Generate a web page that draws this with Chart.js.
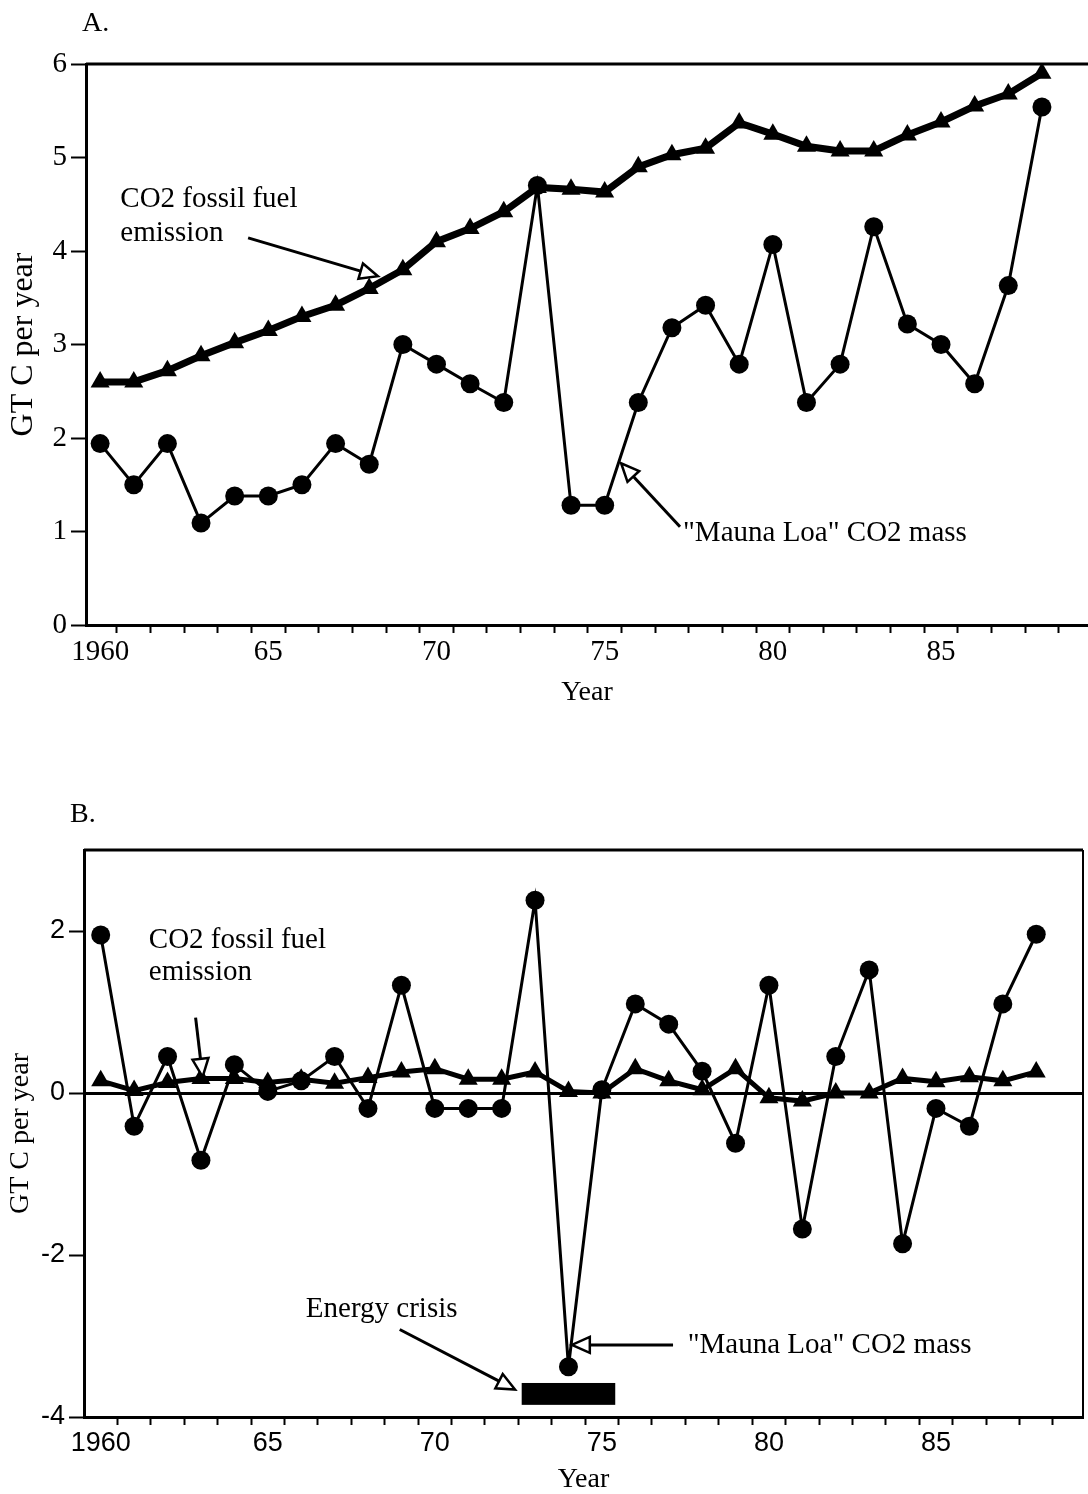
<!DOCTYPE html>
<html>
<head>
<meta charset="utf-8">
<script src="https://cdn.jsdelivr.net/npm/chart.js@4.4.0/dist/chart.umd.min.js"></script>
<style>
  html, body { margin: 0; padding: 0; background: #fff; overflow: hidden; }
  #wrap { position: relative; width: 1088px; height: 1494px; overflow: hidden; }
  canvas { position: absolute; left: 0; }
  #chartA { top: 0; }
  #chartB { top: 780px; }
</style>
</head>
<body>
<div id="wrap">
  <canvas id="chartA" width="1088" height="720"></canvas>
  <canvas id="chartB" width="1088" height="716"></canvas>
</div>
<script>
// years on the x axis
const years = [1960, 1961, 1962, 1963, 1964, 1965, 1966, 1967, 1968, 1969,
  1970, 1971, 1972, 1973, 1974, 1975, 1976, 1977, 1978, 1979,
  1980, 1981, 1982, 1983, 1984, 1985, 1986, 1987, 1988];

// panel A : GT C per year
const fossilA = [2.6, 2.6, 2.72, 2.88, 3.02, 3.15, 3.3, 3.42, 3.6, 3.8,
  4.1, 4.24, 4.42, 4.68, 4.66, 4.63, 4.9, 5.03, 5.1, 5.37,
  5.25, 5.12, 5.07, 5.07, 5.24, 5.38, 5.55, 5.68, 5.9];
const maunaA = [1.94, 1.5, 1.94, 1.09, 1.38, 1.38, 1.5, 1.94, 1.72, 3.0,
  2.79, 2.58, 2.38, 4.7, 1.28, 1.28, 2.38, 3.18, 3.42, 2.79,
  4.07, 2.38, 2.79, 4.26, 3.22, 3.0, 2.58, 3.63, 5.54];

// panel B : year to year change
const fossilB = [0.15, 0.03, 0.13, 0.18, 0.18, 0.13, 0.17, 0.12, 0.19, 0.26,
  0.3, 0.17, 0.17, 0.26, 0.02, 0.0, 0.3, 0.15, 0.04, 0.3,
  -0.06, -0.1, 0.0, 0.0, 0.18, 0.14, 0.2, 0.15, 0.26];
const maunaB = [1.95, -0.41, 0.45, -0.83, 0.35, 0.02, 0.15, 0.45, -0.19, 1.33,
  -0.19, -0.19, -0.19, 2.38, -3.38, 0.04, 1.1, 0.85, 0.27, -0.62,
  1.33, -1.68, 0.45, 1.52, -1.86, -0.19, -0.41, 1.1, 1.96];

// tick labels
const xLabelYears = [1960, 1965, 1970, 1975, 1980, 1985];
const xLabelText = ["1960", "65", "70", "75", "80", "85"];
const yTicksA = [0, 1, 2, 3, 4, 5, 6];
const yTicksB = [-4, -2, 0, 2];

// energy crisis period (years) and its band on the y axis
const crisisYears = [1972.6, 1975.4];
const crisisBand = [-3.58, -3.85];

const serif = '"Liberation Serif", "Times New Roman", serif';
const sans = '"Liberation Sans", Arial, sans-serif';

// small ticks between the labelled years
const minorTicks = [];
for (let y = 1960.5; y < 1989; y += 1) minorTicks.push(y);
const xTicks = minorTicks.concat(xLabelYears).sort((a, b) => a - b);

function pts(vals) {
  return years.map((yr, i) => ({ x: yr, y: vals[i] }));
}

// open arrow head, tip at (x2, y2)
function openArrow(ctx, x1, y1, x2, y2) {
  const ang = Math.atan2(y2 - y1, x2 - x1);
  const len = 18, half = 8;
  const bx = x2 - Math.cos(ang) * len;
  const by = y2 - Math.sin(ang) * len;
  ctx.strokeStyle = "#000";
  ctx.lineWidth = 3;
  ctx.beginPath();
  ctx.moveTo(x1, y1);
  ctx.lineTo(bx, by);
  ctx.stroke();
  ctx.beginPath();
  ctx.moveTo(x2, y2);
  ctx.lineTo(bx + Math.sin(ang) * half, by - Math.cos(ang) * half);
  ctx.lineTo(bx - Math.sin(ang) * half, by + Math.cos(ang) * half);
  ctx.closePath();
  ctx.fillStyle = "#fff";
  ctx.fill();
  ctx.lineWidth = 2.5;
  ctx.stroke();
}

// frame, notes and arrows, all placed through the chart scales
function notesPlugin(notes) {
  return {
    id: "notes",
    afterDatasetsDraw(chart) {
      const ctx = chart.ctx;
      const a = chart.chartArea;
      const xs = chart.scales.x, ys = chart.scales.y;
      const px = (v) => xs.getPixelForValue(v);
      const py = (v) => ys.getPixelForValue(v);
      ctx.save();
      ctx.strokeStyle = "#000";
      ctx.lineWidth = 3;
      ctx.beginPath();
      ctx.moveTo(a.left, a.top);
      ctx.lineTo(a.right, a.top);
      ctx.stroke();
      if (notes.rightBorder) {
        ctx.lineWidth = 2;
        ctx.beginPath();
        ctx.moveTo(a.right, a.top);
        ctx.lineTo(a.right, a.bottom);
        ctx.stroke();
      }
      if (notes.bar) {
        const b = notes.bar;
        ctx.fillStyle = "#000";
        ctx.fillRect(px(b.x[0]), py(b.y[0]), px(b.x[1]) - px(b.x[0]), py(b.y[1]) - py(b.y[0]));
      }
      notes.arrows.forEach((ar) => openArrow(ctx, px(ar[0]), py(ar[1]), px(ar[2]), py(ar[3])));
      ctx.fillStyle = "#000";
      ctx.font = "29px " + serif;
      ctx.textBaseline = "middle";
      notes.texts.forEach((t) => {
        ctx.textAlign = t.align || "left";
        ctx.fillText(t.text, px(t.x), py(t.y));
      });
      // panel letter
      ctx.textAlign = "left";
      ctx.font = "28px " + serif;
      ctx.fillText(notes.panel[0], notes.panel[1], notes.panel[2]);
      ctx.restore();
    }
  };
}

function makeChart(id, p) {
  const ctx = document.getElementById(id).getContext("2d");
  return new Chart(ctx, {
    type: "line",
    data: {
      datasets: [
        {
          label: "CO2 fossil fuel emission",
          data: pts(p.fossil),
          borderColor: "#000",
          backgroundColor: "#000",
          borderWidth: p.fossilWidth,
          pointStyle: "triangle",
          pointRadius: 11,
          pointBorderWidth: 0,
          tension: 0,
          order: p.fossilOrder
        },
        {
          label: '"Mauna Loa" CO2 mass',
          data: pts(p.mauna),
          borderColor: "#000",
          backgroundColor: "#000",
          borderWidth: 3,
          pointStyle: "circle",
          pointRadius: 9.5,
          pointBorderWidth: 0,
          tension: 0,
          order: p.maunaOrder
        }
      ]
    },
    options: {
      responsive: false,
      animation: false,
      devicePixelRatio: 1,
      layout: { autoPadding: false, padding: { top: p.top, right: p.right, left: 0, bottom: 0 } },
      plugins: { legend: { display: false }, tooltip: { enabled: false } },
      scales: {
        x: {
          type: "linear",
          min: p.xmin,
          max: p.xmax,
          afterBuildTicks: (axis) => { axis.ticks = xTicks.map((v) => ({ value: v })); },
          afterFit: (axis) => { axis.height = p.xHeight; },
          grid: {
            drawOnChartArea: false,
            tickLength: 8,
            tickWidth: 2,
            tickColor: (c) => (c.tick && Number.isInteger(c.tick.value)) ? "rgba(0,0,0,0)" : "#000"
          },
          border: { color: "#000", width: 3 },
          ticks: {
            autoSkip: false,
            maxRotation: 0,
            color: "#000",
            padding: 2,
            font: { family: p.tickFont, size: p.tickSize },
            callback: (v) => {
              const i = xLabelYears.indexOf(v);
              return i >= 0 ? xLabelText[i] : "";
            }
          },
          title: {
            display: true,
            text: "Year",
            color: "#000",
            font: { family: serif, size: 28 },
            padding: { top: 0, bottom: p.yearPad }
          }
        },
        y: {
          min: p.ymin,
          max: p.ymax,
          afterBuildTicks: (axis) => { axis.ticks = p.yTicks.map((v) => ({ value: v })); },
          afterFit: (axis) => { axis.width = p.left; },
          grid: {
            drawOnChartArea: p.zeroLine,
            color: (c) => (c.tick && c.tick.value === 0) ? "#000" : "rgba(0,0,0,0)",
            lineWidth: 3,
            tickLength: 15,
            tickWidth: 2,
            tickColor: "#000"
          },
          border: { color: "#000", width: 3 },
          ticks: {
            color: "#000",
            padding: 4,
            font: { family: p.tickFont, size: p.tickSize }
          },
          title: {
            display: true,
            text: "GT C per year",
            color: "#000",
            font: { family: serif, size: p.titleSize },
            padding: 4
          }
        }
      }
    },
    plugins: [notesPlugin(p.notes)]
  });
}

// panel A
makeChart("chartA", {
  fossil: fossilA, mauna: maunaA,
  fossilWidth: 7, fossilOrder: 2, maunaOrder: 1,
  xmin: 1959.58, xmax: 1989.37, ymin: 0, ymax: 6, yTicks: yTicksA,
  top: 64, right: 0, left: 86, xHeight: 95, yearPad: 11, titleSize: 32,
  tickFont: serif, tickSize: 29, zeroLine: false,
  notes: {
    panel: ["A.", 82, 24],
    rightBorder: false,
    arrows: [
      [1964.4, 4.14, 1968.26, 3.73],
      [1977.24, 1.05, 1975.49, 1.73]
    ],
    texts: [
      { text: "CO2 fossil fuel", x: 1960.6, y: 4.55 },
      { text: "emission", x: 1960.6, y: 4.19 },
      { text: '"Mauna Loa" CO2 mass', x: 1977.33, y: 0.98 }
    ]
  }
});

// panel B
makeChart("chartB", {
  fossil: fossilB, mauna: maunaB,
  fossilWidth: 5, fossilOrder: 1, maunaOrder: 2,
  xmin: 1959.5, xmax: 1989.4, ymin: -4, ymax: 3, yTicks: yTicksB,
  top: 70, right: 5, left: 84, xHeight: 79, yearPad: 0, titleSize: 28,
  tickFont: sans, tickSize: 27, zeroLine: true,
  notes: {
    panel: ["B.", 70, 35],
    rightBorder: true,
    bar: { x: crisisYears, y: crisisBand },
    arrows: [
      [1962.84, 0.93, 1963.05, 0.2],
      [1968.95, -2.92, 1972.4, -3.66],
      [1977.13, -3.11, 1974.1, -3.11]
    ],
    texts: [
      { text: "CO2 fossil fuel", x: 1961.44, y: 1.89 },
      { text: "emission", x: 1961.44, y: 1.49 },
      { text: "Energy crisis", x: 1968.41, y: -2.67, align: "center" },
      { text: '"Mauna Loa" CO2 mass', x: 1977.57, y: -3.11 }
    ]
  }
});
</script>
</body>
</html>
